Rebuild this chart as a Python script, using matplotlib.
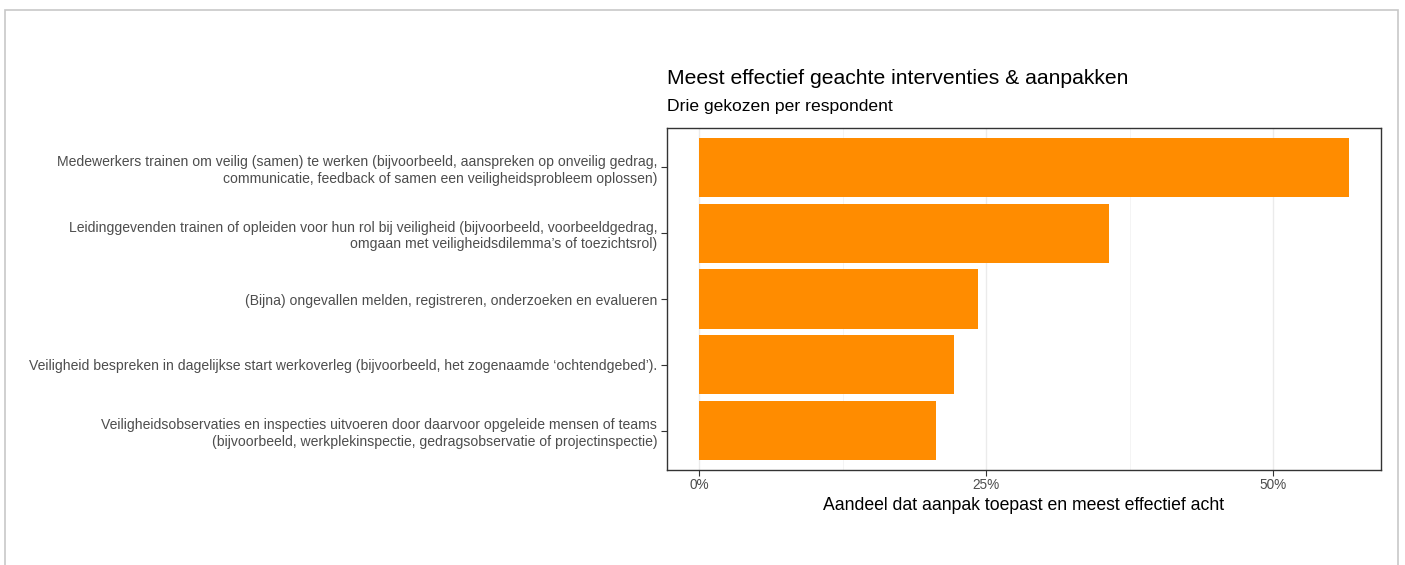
import matplotlib
matplotlib.use("Agg")
import matplotlib.pyplot as plt
from matplotlib.patches import Rectangle
from matplotlib.ticker import FixedLocator, FuncFormatter

plt.rcParams['font.family'] = ['Liberation Sans', 'DejaVu Sans']

categories = [
    "Medewerkers trainen om veilig (samen) te werken (bijvoorbeeld, aanspreken op onveilig gedrag,\ncommunicatie, feedback of samen een veiligheidsprobleem oplossen)",
    "Leidinggevenden trainen of opleiden voor hun rol bij veiligheid (bijvoorbeeld, voorbeeldgedrag,\nomgaan met veiligheidsdilemma’s of toezichtsrol)",
    "(Bijna) ongevallen melden, registreren, onderzoeken en evalueren",
    "Veiligheid bespreken in dagelijkse start werkoverleg (bijvoorbeeld, het zogenaamde ‘ochtendgebed’).",
    "Veiligheidsobservaties en inspecties uitvoeren door daarvoor opgeleide mensen of teams\n(bijvoorbeeld, werkplekinspectie, gedragsobservatie of projectinspectie)",
]
values = [0.566, 0.357, 0.243, 0.222, 0.206]
x_ticks = [0, 0.25, 0.5]
x_minor = [0.125, 0.375]
title = "Meest effectief geachte interventies & aanpakken"
subtitle = "Drie gekozen per respondent"
xlabel = "Aandeel dat aanpak toepast en meest effectief acht"

W, H = 1405, 565
fig = plt.figure(figsize=(W / 100, H / 100), dpi=100)
fig.patches.append(Rectangle((5 / W, -0.1), (1398 - 5) / W, 1.1 - 10 / H,
                             transform=fig.transFigure, fill=False,
                             edgecolor="#C8C8C8", linewidth=1.2))

ax = fig.add_axes([667 / W, 1 - 470 / H, (1381 - 667) / W, (470 - 128) / H])
n = len(categories)
ypos = list(range(n))
ax.barh(ypos, values, height=0.9, color="#FF8C00", zorder=2)
ax.set_ylim(n - 1 + 0.6, -0.6)
vmax = max(values)
ax.set_xlim(-0.05 * vmax, 1.05 * vmax)

ax.set_yticks(ypos)
ax.set_yticklabels(categories, fontsize=10.1, color="#4D4D4D", linespacing=1.25)
ax.xaxis.set_major_locator(FixedLocator(x_ticks))
ax.xaxis.set_minor_locator(FixedLocator(x_minor))
ax.xaxis.set_major_formatter(FuncFormatter(lambda v, p: f"{v * 100:.0f}%"))
ax.tick_params(axis="x", which="major", labelsize=9.8, labelcolor="#4D4D4D",
               color="#333333", length=4, width=0.8, pad=2)
ax.tick_params(axis="x", which="minor", length=0)
ax.tick_params(axis="y", labelcolor="#4D4D4D", color="#333333", length=4,
               width=0.8, pad=3)
ax.grid(True, axis="x", which="major", color="#EBEBEB", linewidth=1.0, zorder=0)
ax.grid(True, axis="x", which="minor", color="#F3F3F3", linewidth=0.6, zorder=0)
ax.set_axisbelow(True)
for s in ax.spines.values():
    s.set_color("#333333")
    s.set_linewidth(1.0)

ax.set_xlabel(xlabel, fontsize=12.7, color="black", labelpad=3)
fig.text(667 / W, 1 - 78.5 / H, title, fontsize=15.2, ha="left", va="center")
fig.text(667 / W, 1 - 106.5 / H, subtitle, fontsize=12.6, ha="left", va="center")

fig.savefig("out.png", dpi=100)
